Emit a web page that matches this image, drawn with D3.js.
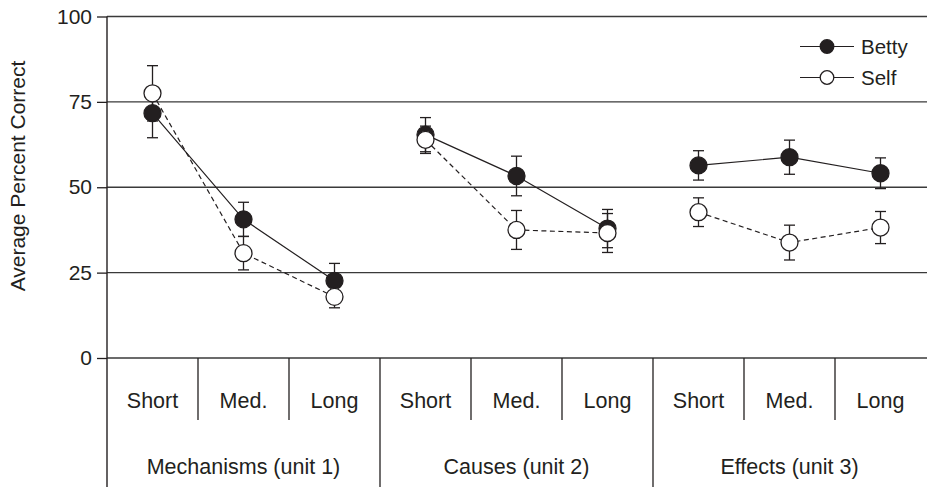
<!DOCTYPE html>
<html><head><meta charset="utf-8">
<script src="https://cdn.jsdelivr.net/npm/d3@7"></script>
<style>
body{margin:0;background:#fff}
svg{display:block}
text{font-family:"Liberation Sans",Arial,Helvetica,sans-serif;fill:#231f20}
</style>
</head><body><svg id="chart" width="927" height="487"></svg>
<script>
// ---- data ----
const units = ["Mechanisms (unit 1)", "Causes (unit 2)", "Effects (unit 3)"];
const delays = ["Short", "Med.", "Long"];
const seriesNames = ["Betty", "Self"];
const bettyMean = [71.7, 40.6, 22.6, 65.4, 53.3, 37.9, 56.4, 58.8, 54.1];
const bettyErr  = [7.2, 5.0, 5.1, 5.0, 5.8, 5.6, 4.3, 5.0, 4.5];
const selfMean  = [77.5, 30.7, 17.9, 63.9, 37.5, 36.6, 42.7, 33.8, 38.2];
const selfErr   = [8.1, 4.9, 3.2, 4.0, 5.7, 5.7, 4.2, 5.1, 4.7];
const yTicks = [0, 25, 50, 75, 100];
const yLabel = "Average Percent Correct";

(function () {
// ---- layout ----
const W = 927, H = 487;
const mLeft = 107, mRight = 926, mTop = 16.5, mBottom = 358;
const svg = d3.select("#chart");
const ink = "#231f20";

const cells = [];
units.forEach((u, gi) => delays.forEach((d, di) => cells.push({unit: u, delay: d, key: gi + "|" + di, i: gi * 3 + di})));

const x = d3.scaleBand().domain(cells.map(c => c.key)).range([mLeft, mRight]).padding(0);
const xg = d3.scaleBand().domain(units).range([mLeft, mRight]).padding(0);
const y = d3.scaleLinear().domain([0, 100]).range([mBottom, mTop]);

// gridlines
svg.append("g").selectAll("line").data(yTicks).join("line")
  .attr("x1", mLeft).attr("x2", W)
  .attr("y1", d => y(d)).attr("y2", d => y(d))
  .attr("stroke", "#3a3a3a").attr("stroke-width", 1.4);

// y axis
const ax = svg.append("g").attr("transform", `translate(${mLeft},0)`)
  .call(d3.axisLeft(y).tickValues(yTicks).tickSize(10).tickPadding(5).tickFormat(d3.format("d")));
ax.select(".domain").remove();
ax.selectAll(".tick line").attr("stroke", ink).attr("stroke-width", 1.3);
ax.selectAll(".tick text").attr("font-size", 21).style("fill", ink)
  .attr("font-family", '"Liberation Sans",Arial,sans-serif');
svg.append("line").attr("x1", mLeft).attr("x2", mLeft).attr("y1", y(100)).attr("y2", H)
  .attr("stroke", ink).attr("stroke-width", 1.4);

// y title
svg.append("text").attr("transform", `translate(24.5,176) rotate(-90)`)
  .attr("text-anchor", "middle").attr("font-size", 21).text(yLabel);

// category dividers
cells.forEach((c, k) => {
  if (k === 0) return;
  const xx = x(c.key);
  const major = (k % 3 === 0);
  svg.append("line").attr("x1", xx).attr("x2", xx).attr("y1", y(0)).attr("y2", major ? H : 420)
    .attr("stroke", ink).attr("stroke-width", 1.3);
});

// category labels
svg.append("g").selectAll("text").data(cells).join("text")
  .attr("x", c => x(c.key) + x.bandwidth() / 2).attr("y", 407.5)
  .attr("text-anchor", "middle").attr("font-size", 21.5).text(c => c.delay);
svg.append("g").selectAll("text").data(units).join("text")
  .attr("x", u => xg(u) + xg.bandwidth() / 2).attr("y", 474)
  .attr("text-anchor", "middle").attr("font-size", 21.5).text(u => u);

// series
const series = [
  {name: seriesNames[0], mean: bettyMean, err: bettyErr, fill: ink, dash: null},
  {name: seriesNames[1], mean: selfMean, err: selfErr, fill: "#fff", dash: "5,3.5"}
];
const px = i => x(cells[i].key) + x.bandwidth() / 2;
const capW = 5.5, r = 8.5;

// error bars
series.forEach(s => {
  const g = svg.append("g").attr("stroke", ink).attr("stroke-width", 1.3);
  s.mean.forEach((m, i) => {
    const x0 = px(i), y1 = y(m + s.err[i]), y2 = y(m - s.err[i]);
    g.append("line").attr("x1", x0).attr("x2", x0).attr("y1", y1).attr("y2", y2);
    g.append("line").attr("x1", x0 - capW).attr("x2", x0 + capW).attr("y1", y1).attr("y2", y1);
    g.append("line").attr("x1", x0 - capW).attr("x2", x0 + capW).attr("y1", y2).attr("y2", y2);
  });
});

// lines (per unit)
const line = d3.line().x(d => px(d.i)).y(d => y(d.v));
series.forEach(s => {
  units.forEach((u, gi) => {
    const pts = [0, 1, 2].map(di => ({i: gi * 3 + di, v: s.mean[gi * 3 + di]}));
    svg.append("path").attr("d", line(pts)).attr("fill", "none")
      .attr("stroke", ink).attr("stroke-width", 1.2)
      .attr("stroke-dasharray", s.dash);
  });
});

// markers
series.forEach(s => {
  svg.append("g").selectAll("circle").data(s.mean).join("circle")
    .attr("cx", (m, i) => px(i)).attr("cy", m => y(m)).attr("r", r)
    .attr("fill", s.fill).attr("stroke", ink).attr("stroke-width", 1.3);
});

// legend
const lg = svg.append("g");
series.forEach((s, k) => {
  const ly = 46.5 + k * 31;
  lg.append("line").attr("x1", 800).attr("x2", 854).attr("y1", ly).attr("y2", ly)
    .attr("stroke", ink).attr("stroke-width", 1.2);
  lg.append("circle").attr("cx", 827).attr("cy", ly).attr("r", 6.8)
    .attr("fill", s.fill).attr("stroke", ink).attr("stroke-width", 1.3);
  lg.append("text").attr("x", 861).attr("y", ly + 7.4).attr("font-size", 20.5).text(s.name);
});
})();
</script>
</body></html>
